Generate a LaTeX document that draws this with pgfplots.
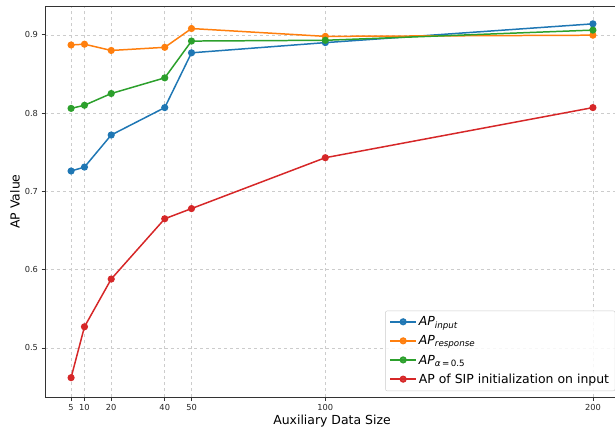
\documentclass[border=0pt]{standalone}
\usepackage{fontspec}
\setmainfont{DejaVu Sans}
\usepackage{pgfplots}
\pgfplotsset{compat=1.18}
\definecolor{tabblue}{HTML}{1F77B4}
\definecolor{taborange}{HTML}{FF7F0E}
\definecolor{tabgreen}{HTML}{2CA02C}
\definecolor{tabred}{HTML}{D62728}
\begin{document}
\begin{tikzpicture}
\begin{axis}[
  at={(0,0)}, anchor=south west,
  scale only axis,
  width=574bp, height=391bp,
  xmin=-4.75, xmax=209.75,
  ymin=0.4373, ymax=0.9368,
  xtick={5,10,20,40,50,100,200},
  ytick={0.5,0.6,0.7,0.8,0.9},
  yticklabels={0.5,0.6,0.7,0.8,0.9},
  /pgf/number format/assume math mode=true,
  tick label style={font=\fontsize{8.3}{10}\selectfont, color=black!85},
  xlabel={Auxiliary Data Size},
  ylabel={AP Value},
  every axis x label/.style={at={(axis description cs:0.5,-0.0614)}, anchor=center, font=\fontsize{12.5}{14}\selectfont},
  every axis y label/.style={at={(axis description cs:-0.0523,0.5)}, rotate=90, anchor=center, font=\fontsize{12.5}{14}\selectfont},
  grid=major,
  major grid style={dashed, gray!40, line width=0.6pt},
  tick align=outside,
  xtick pos=bottom, ytick pos=left,
  major tick length=3.5bp,
  axis line style={black!80, line width=0.8pt},
  every tick/.style={black!80, line width=0.8pt},
  legend style={
    at={(rel axis cs:0.9935,0.015)}, anchor=south east,
    font=\fontsize{12.5}{14}\selectfont,
    draw=gray!40, rounded corners=2pt, fill=white, fill opacity=0.85, text opacity=1,
    row sep=4.5bp, inner sep=4bp,
  },
  legend image code/.code={
    \draw[#1, line width=1.5pt, mark repeat=2, mark phase=2] plot coordinates {(0bp,0.3bp) (13bp,0.3bp) (26bp,0.3bp)};
  },
  legend cell align=left,
  every axis plot/.append style={line width=1.5pt, mark=*, mark size=2.8bp, mark options={solid}},
]
\addplot[tabblue, mark options={fill=tabblue, draw=tabblue}] coordinates {
  (5,0.726) (10,0.731) (20,0.772) (40,0.807) (50,0.877) (100,0.890) (200,0.914)};
\addlegendentry{\textit{AP}\textsubscript{\textit{input}}}
\addplot[taborange, mark options={fill=taborange, draw=taborange}] coordinates {
  (5,0.887) (10,0.888) (20,0.880) (40,0.884) (50,0.908) (100,0.898) (200,0.8995)};
\addlegendentry{\textit{AP}\textsubscript{\textit{response}}}
\addplot[tabgreen, mark options={fill=tabgreen, draw=tabgreen}] coordinates {
  (5,0.806) (10,0.810) (20,0.825) (40,0.845) (50,0.892) (100,0.893) (200,0.906)};
\addlegendentry{\textit{AP}\textsubscript{\textit{α}\,=\,0.5}}
\addplot[tabred, mark options={fill=tabred, draw=tabred}] coordinates {
  (5,0.462) (10,0.527) (20,0.588) (40,0.665) (50,0.678) (100,0.743) (200,0.807)};
\addlegendentry{AP of SIP initialization on input}
\end{axis}
\pgfresetboundingbox
\path[use as bounding box] (-45bp,-35bp) rectangle (570bp,397bp);
\end{tikzpicture}
\end{document}
